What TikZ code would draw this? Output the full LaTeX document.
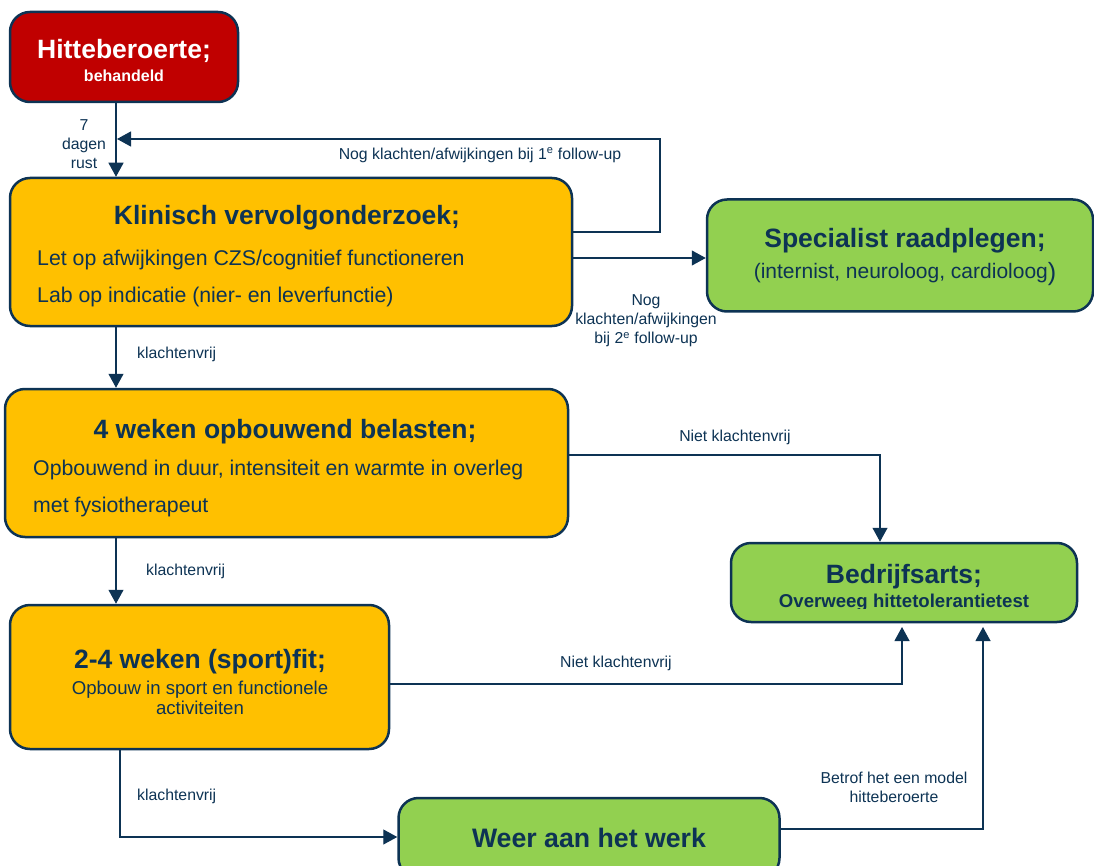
\documentclass[tikz,border=0pt]{standalone}
\usepackage{fontspec}
\setmainfont{Liberation Sans}
\usetikzlibrary{arrows.meta}
\definecolor{navy}{HTML}{0D3354}
\definecolor{rood}{HTML}{C00000}
\definecolor{geel}{HTML}{FFC000}
\definecolor{groen}{HTML}{92D050}
\begin{document}
\begin{tikzpicture}[x=1pt,y=-1pt,
  box/.style={draw=navy, line width=2.5pt, rounded corners=20pt, inner sep=0pt},
  conn/.style={draw=navy, line width=1.2pt, -{Triangle[length=14pt,width=15pt]}},
  lab/.style={text=navy, font=\fontsize{15.8}{19}\selectfont, align=center, inner sep=0pt},
  ttl/.style={text=navy, font=\fontsize{26.5}{30}\selectfont\bfseries, inner sep=0pt},
  body/.style={text=navy, font=\fontsize{21.3}{24}\selectfont, inner sep=0pt, anchor=west},
  sub/.style={text=navy, font=\fontsize{18.6}{19.5}\selectfont, align=center, inner sep=0pt}]
\useasboundingbox (0,0) rectangle (1094,866);

% boxes
\node[box, fill=rood, minimum width=228pt, minimum height=90pt] (hb) at (124,57) {};
\node[box, fill=geel, minimum width=562pt, minimum height=148pt] (kv) at (291,252) {};
\node[box, fill=groen, minimum width=386pt, minimum height=112pt] (sp) at (900,255.5) {};
\node[box, fill=geel, minimum width=563pt, minimum height=148pt] (ob) at (286.5,463) {};
\node[box, fill=groen, minimum width=346pt, minimum height=79pt] (ba) at (904,582.5) {};
\node[box, fill=geel, minimum width=379pt, minimum height=144pt] (sf) at (199.5,677) {};
\node[box, fill=groen, minimum width=381pt, minimum height=80pt] (ww) at (589,838) {};

% texts
\node[text=white, font=\fontsize{26.5}{30}\selectfont\bfseries, inner sep=0pt] (hbt) at (124,51) {Hitteberoerte;};
\node[text=white, font=\fontsize{16}{18}\selectfont\bfseries, inner sep=0pt] (hbs) at (124,76) {behandeld};

\node[ttl] (kvt) at (287,218) {Klinisch vervolgonderzoek;};
\node[body] (kv1) at (37,260) {Let op afwijkingen CZS/cognitief functioneren};
\node[body] (kv2) at (37,297) {Lab op indicatie (nier- en leverfunctie)};

\node[ttl] (spt) at (905,241) {Specialist raadplegen;};
\node[sub, font=\fontsize{21}{24}\selectfont] (sps) at (905,274) {(internist, neuroloog, cardioloog\raisebox{-1.5pt}{\fontsize{25}{25}\selectfont)}};

\node[ttl] (obt) at (285,432) {4 weken opbouwend belasten;};
\node[body] (ob1) at (33,470) {Opbouwend in duur, intensiteit en warmte in overleg};
\node[body] (ob2) at (33,507) {met fysiotherapeut};

\begin{scope}
\clip (735,545) rectangle (1075,608.5);
\node[ttl, anchor=base] (bat) at (904,583) {Bedrijfsarts;};
\node[text=navy, font=\fontsize{18.6}{20}\selectfont\bfseries, inner sep=0pt, anchor=base] (bas) at (904,607) {Overweeg hittetolerantietest};
\end{scope}

\node[ttl] (sft) at (200,662) {2-4 weken (sport)fit;};
\node[sub] (sfs) at (200,698) {Opbouw in sport en functionele\\activiteiten};

\node[ttl, font=\fontsize{26.7}{30}\selectfont\bfseries] (wwt) at (589,838) {Weer aan het werk};

% connectors
\draw[conn] (hb.south -| 116,0) -- (kv.north -| 116,0);
\node[lab] (l7) at (84,144) {7\\dagen\\rust};

\coordinate (f1a) at (572,232);
\coordinate (f1b) at (660,232);
\coordinate (f1c) at (660,139);
\coordinate (f1d) at (117,139);
\draw[conn] (f1a) -- (f1b) -- (f1c) -- (f1d);
\node[lab] (lf1) at (480,155) {Nog klachten/afwijkingen bij 1\textsuperscript{e} follow-up};

\draw[conn] (kv.east |- 0,258) -- (sp.west |- 0,258);
\node[lab] (lf2) at (646,321) {Nog\\klachten/afwijkingen\\bij 2\textsuperscript{e} follow-up};

\draw[conn] (kv.south -| 116,0) -- (ob.north -| 116,0);
\node[lab, anchor=west] (lk1) at (137,354) {klachtenvrij};

\coordinate (n1) at (880,455);
\draw[conn] (ob.east |- 0,455) -- (n1) -- (ba.north -| n1);
\node[lab] (ln1) at (735,437) {Niet klachtenvrij};

\draw[conn] (ob.south -| 116,0) -- (sf.north -| 116,0);
\node[lab, anchor=west] (lk2) at (146,571) {klachtenvrij};

\coordinate (n2) at (902,684);
\coordinate (n2t) at (902,627);
\draw[conn] (sf.east |- 0,684) -- (n2) -- (n2t);
\node[lab] (ln2) at (616,663) {Niet klachtenvrij};

\coordinate (k3) at (120,837);
\draw[conn] (sf.south -| k3) -- (k3) -- (ww.west |- k3);
\node[lab, anchor=west] (lk3) at (137,796) {klachtenvrij};

\coordinate (m1) at (983,829);
\coordinate (m1t) at (983,627);
\draw[conn] (ww.east |- m1) -- (m1) -- (m1t);
\node[lab] (lm1) at (894,787) {Betrof het een model\\hitteberoerte};
\end{tikzpicture}
\end{document}
